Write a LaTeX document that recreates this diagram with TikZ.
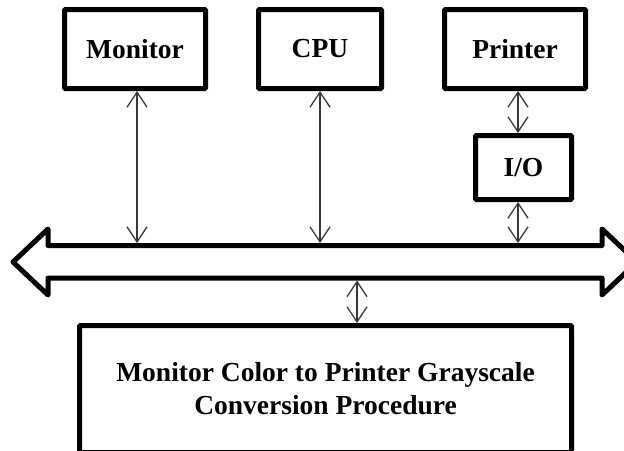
\documentclass[tikz,border=0pt]{standalone}
\usepackage{fontspec}
\setmainfont{Liberation Serif}
\usetikzlibrary{arrows.meta,calc}
\begin{document}
\begin{tikzpicture}[x=1pt,y=-1pt,
  box/.style={draw, line width=5pt, rounded corners=1pt, inner sep=0pt,
    font=\fontsize{27.5}{33}\selectfont\bfseries, align=center},
  link/.style={draw=black!78, line width=1.3pt,
    {Straight Barb[length=15pt,width=20pt]}-{Straight Barb[length=15pt,width=20pt]}},
  busline/.style={draw, line width=5pt, line join=round}]
\useasboundingbox (0,0) rectangle (624,450);
\node[box, minimum width=141pt, minimum height=79pt] (monitor) at (135,49) {Monitor};
\node[box, minimum width=123pt, minimum height=79pt] (cpu) at (320,49) {CPU};
\node[box, minimum width=141pt, minimum height=79pt] (printer) at (515,49) {Printer};
\node[box, minimum width=96pt, minimum height=64pt] (io) at (523.5,167.5) {I/O};
\node[box, minimum width=492pt, minimum height=127pt] (proc) at (325.5,389)
  {Monitor Color to Printer Grayscale\\Conversion Procedure};
% bus
\draw[busline] (48,245.5) -- (48,229) -- (13,262) -- (48,295) -- (48,278)
  -- (602,278) -- (602,295) -- (637,262) -- (602,229) -- (602,245.5) -- cycle;
\coordinate (bustop) at (0,243);
\coordinate (busbot) at (0,280.5);
\coordinate (mx) at (137,0);
\coordinate (px) at (518,0);
\coordinate (bx) at (357,0);
\draw[link] (monitor.south -| mx) -- (bustop -| mx);
\draw[link] (cpu.south) -- (bustop -| cpu.south);
\draw[link] (printer.south -| px) -- (io.north -| px);
\draw[link] (io.south -| px) -- (bustop -| px);
\draw[link] (busbot -| bx) -- (proc.north -| bx);
\end{tikzpicture}
\end{document}
